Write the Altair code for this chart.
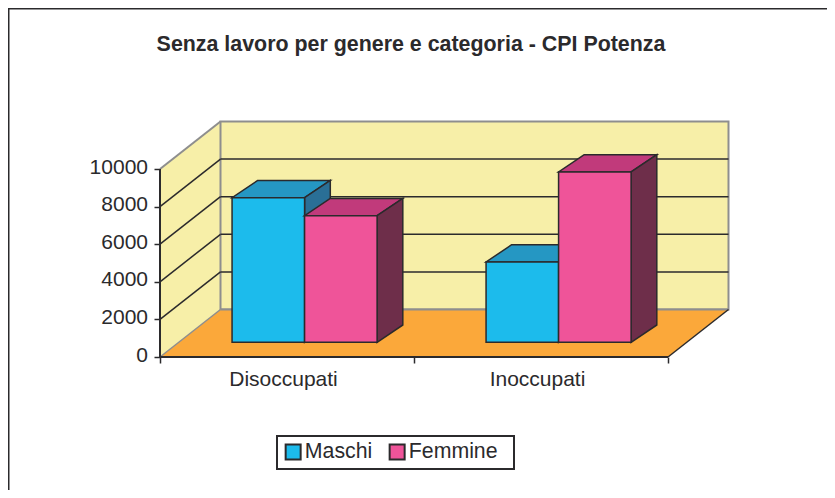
import altair as alt
import pandas as pd

TITLE = "Senza lavoro per genere e categoria - CPI Potenza"
categories = ["Disoccupati", "Inoccupati"]
series = ["Maschi", "Femmine"]
maschi = [7692, 4272]
femmine = [6734, 9059]
y_ticks = [0, 2000, 4000, 6000, 8000, 10000]
x_ticks = [0, 1, 2]

FONT = "Liberation Sans"
INK = "#2b2a2c"
GREY = "#8e8e8e"
WALL = "#f7efa8"
FLOOR = "#fba83a"
front_col = {"Maschi": "#1cbbec", "Femmine": "#ef5499"}
top_col = {"Maschi": "#2597c3", "Femmine": "#c13a7b"}
side_col = {"Maschi": "#2a6f96", "Femmine": "#6e2e4a"}

# oblique projection, in data units per unit of depth
PX_PER_UNIT = 18.8
DX = 60.5 / 254
DY = 47.5 / PX_PER_UNIT * 1000
BAR_DX0, BAR_DX1 = 0.32, 0.745
BAR_DY0, BAR_DY1 = 0.31, 0.674
BAR_START, BAR_W = 0.2075, 0.2855

W, H = 569, 235
x_s = alt.Scale(domain=[0, W / 254], nice=False, zero=False)
y_s = alt.Scale(domain=[0, H / PX_PER_UNIT * 1000], nice=False, zero=False)
X = lambda f="x": alt.X(f"{f}:Q", scale=x_s, axis=None)
Y = lambda f="y": alt.Y(f"{f}:Q", scale=y_s, axis=None)


def vert_para(x0, x1, lo0, hi0, lo1, hi1):
    return pd.DataFrame({"x": [x0, x1], "y": [lo0, lo1], "y2": [hi0, hi1]})


def horiz_para(y0, y1, xa0, xb0, xa1, xb1):
    return pd.DataFrame({"y": [y0, y1], "x": [xa0, xa1], "x2": [xb0, xb1]})


def side(df, fill, stroke, sw=1.5):
    return alt.Chart(df).mark_area(fill=fill, stroke=stroke, strokeWidth=sw, orient="vertical", opacity=1).encode(
        x=X(), y=Y(), y2="y2:Q")


def flat(df, fill, stroke, sw=1.5):
    return alt.Chart(df).mark_area(fill=fill, stroke=stroke, strokeWidth=sw, orient="horizontal", opacity=1).encode(
        y=Y(), x=X(), x2="x2:Q")


def seg(x0, y0, x1, y1, color, sw=1.5):
    df = pd.DataFrame({"x": [x0, x1], "y": [y0, y1]})
    return alt.Chart(df).mark_line(color=color, strokeWidth=sw, clip=False).encode(x=X(), y=Y(), order=alt.Order("x:Q"))


layers = []

# axes (ticks and value labels)
axis_df = pd.DataFrame({"x": [0], "y": [0]})
layers.append(
    alt.Chart(axis_df).mark_point(opacity=0).encode(
        x=alt.X("x:Q", scale=x_s, title=None,
                axis=alt.Axis(values=x_ticks, labels=False, domain=False, grid=False, tickSize=6,
                              tickColor=INK, tickWidth=1.5)),
        y=alt.Y("y:Q", scale=y_s, title=None,
                axis=alt.Axis(values=y_ticks, domain=False, grid=False, tickSize=6, tickColor=INK, tickWidth=1.5,
                              labelFont=FONT, labelFontSize=21, labelColor=INK, labelPadding=6.5,
                              labelOffset=-2, format="d")),
    )
)

# walls and floor
TOP = 10000
layers.append(side(vert_para(0, DX, 0, TOP, DY, TOP + DY), WALL, "none"))
layers.append(alt.Chart(pd.DataFrame({"x": [DX], "x2": [2 + DX], "y": [DY], "y2": [TOP + DY]}))
              .mark_rect(fill=WALL, stroke=GREY, strokeWidth=2).encode(x=X(), x2="x2:Q", y=Y(), y2="y2:Q"))
layers.append(flat(horiz_para(0, DY, 0, 2, DX, 2 + DX), FLOOR, "none"))

# gridlines
for v in y_ticks[1:-1]:
    layers.append(seg(0, v, DX, v + DY, INK))
    layers.append(seg(DX, v + DY, 2 + DX, v + DY, INK))

# frame edges of the box
layers.append(seg(0, TOP, DX, TOP + DY, GREY, 2))
layers.append(seg(0, 0, DX, DY, GREY, 1.5))
layers.append(seg(DX, DY, 2 + DX, DY, GREY, 2))
layers.append(seg(2, 0, 2 + DX, DY, INK, 1.5))
layers.append(seg(0, 0, 0, TOP, INK, 2))
layers.append(seg(0, 0, 2, 0, INK, 2.2))

# bars, Maschi first so that Femmine overlap them
color_scale = alt.Scale(domain=series, range=[front_col[s] for s in series])
legend = alt.Legend(
    title=None, orient="none", legendX=116.5, legendY=314, direction="horizontal", columns=2,
    padding=5, symbolType="square", symbolSize=225,
    symbolStrokeColor=INK, symbolStrokeWidth=2, symbolOpacity=1, labelFont=FONT, labelFontSize=21.3,
    labelColor=INK, labelOffset=1, columnPadding=13, symbolOffset=1,
)
for s, vals in zip(series, [maschi, femmine]):
    k = series.index(s)
    for c, v in enumerate(vals):
        x0 = c + BAR_START + k * BAR_W
        x1 = x0 + BAR_W
        b0, b1 = BAR_DY0 * DY, BAR_DY1 * DY
        sx0, sx1 = BAR_DX0 * DX, BAR_DX1 * DX
        layers.append(flat(horiz_para(v + b0, v + b1, x0 + sx0, x1 + sx0, x0 + sx1, x1 + sx1), top_col[s], INK))
        layers.append(side(vert_para(x1 + sx0, x1 + sx1, b0, v + b0, b1, v + b1), side_col[s], INK))
        front = pd.DataFrame({"x": [x0 + sx0], "x2": [x1 + sx0], "y": [b0], "y2": [v + b0], "serie": [s]})
        layers.append(alt.Chart(front).mark_rect(stroke=INK, strokeWidth=1.5, opacity=1).encode(
            x=X(), x2="x2:Q", y=Y(), y2="y2:Q",
            color=alt.Color("serie:N", scale=color_scale, legend=legend)))

# category labels
cat_df = pd.DataFrame({"x": [0.5, 1.5], "y": [0, 0], "t": categories})
layers.append(alt.Chart(cat_df).mark_text(font=FONT, fontSize=21, color=INK, dy=23, dx=-3.5, clip=False).encode(
    x=X(), y=Y(), text="t:N"))

# title
layers.append(alt.Chart(pd.DataFrame({"t": [TITLE]})).mark_text(
    font=FONT, fontSize=21.4, fontWeight="bold", color=INK, clip=False).encode(
    x=alt.value(251), y=alt.value(-77), text="t:N"))

# legend box
layers.append(alt.Chart(axis_df).mark_rect(fill="white", stroke=INK, strokeWidth=2, clip=False).encode(
    x=alt.value(117), x2=alt.value(354), y=alt.value(314), y2=alt.value(347)))

# outer frame (top and left edges)
layers.append(alt.Chart(axis_df).mark_rule(color=INK, strokeWidth=2).encode(
    x=alt.value(-152), x2=alt.value(W + 98), y=alt.value(-113.5)))
layers.append(alt.Chart(axis_df).mark_rule(color=INK, strokeWidth=2).encode(
    x=alt.value(-151.5), y=alt.value(-114), y2=alt.value(H + 133)))

chart = alt.layer(*layers).properties(
    width=W, height=H,
    padding={"left": 152, "top": 114, "right": 98, "bottom": 133},
    autosize=alt.AutoSizeParams(type="none"),
    background="white",
).resolve_axis(x="independent", y="independent").configure_view(stroke=None)

chart.save("out.html", embed_options={"renderer": "svg", "actions": False})
